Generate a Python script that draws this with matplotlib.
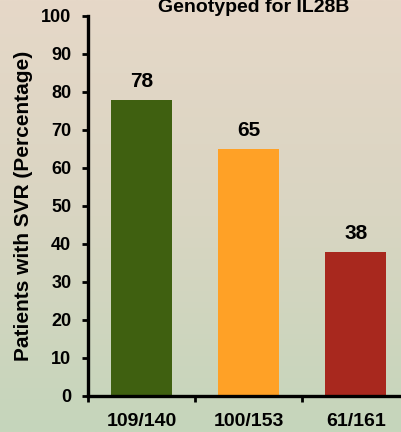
import numpy as np
import matplotlib
matplotlib.use("Agg")
import matplotlib.pyplot as plt
from matplotlib.colors import LinearSegmentedColormap

plt.rcParams['font.family'] = ['Liberation Sans', 'DejaVu Sans']
plt.rcParams['font.weight'] = 'bold'

# data
categories = ["109/140", "100/153", "61/161"]
svr_pct = [78, 65, 38]
bar_colors = ["#3f6010", "#ffa126", "#a8281e"]
title = "Genotyped for IL28B"
ylabel = "Patients with SVR (Percentage)"

fig = plt.figure(figsize=(4.02, 4.32), dpi=100)

# background gradient (beige top -> pale green bottom)
bg = fig.add_axes([0, 0, 1, 1], zorder=-1)
cmap = LinearSegmentedColormap.from_list("bg", ["#c5d6bb", "#d9d5c2", "#e6d8c8"])
grad = np.linspace(0, 1, 256).reshape(-1, 1)
bg.imshow(grad, aspect="auto", cmap=cmap, origin="lower", extent=[0, 1, 0, 1])
bg.set_axis_off()

ax = fig.add_axes([88 / 402, 36 / 432, 1 - 88 / 402, 380 / 432])
ax.set_facecolor("none")

x = np.arange(len(categories))
bars = ax.bar(x, svr_pct, width=0.57, color=bar_colors, zorder=2)

for xi, v in zip(x, svr_pct):
    ax.annotate(str(v), (xi, v), xytext=(0, 9), textcoords="offset points",
                ha="center", va="baseline", fontsize=15, fontweight="bold")

ax.set_xlim(-0.5, 2.43)
ax.set_ylim(0, 100)
ax.set_yticks(range(0, 101, 10))
ax.set_xticks(x)
ax.set_xticklabels(categories)
ax.set_xticks([-0.5, 0.5, 1.5], minor=True)

ax.tick_params(axis="y", labelsize=13, length=4, width=2, pad=8)
ax.tick_params(axis="x", which="major", labelsize=14, length=0, pad=12)
ax.tick_params(axis="x", which="minor", length=4, width=2)

for side in ["top", "right"]:
    ax.spines[side].set_visible(False)
for side in ["left", "bottom"]:
    ax.spines[side].set_linewidth(2.4)

ax.set_ylabel(ylabel, fontsize=15, fontweight="bold", labelpad=6)

fig.text(254 / 402, 1 - 12 / 432, title, ha="center", va="baseline",
         fontsize=14, fontweight="bold")

fig.savefig("out.png", dpi=100)
